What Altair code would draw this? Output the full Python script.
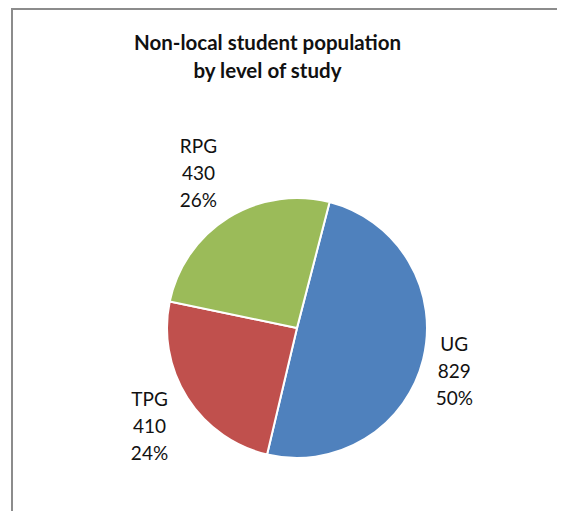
import altair as alt
import numpy as np
import pandas as pd

# ---- data ----
categories = ["UG", "TPG", "RPG"]
students = [829, 410, 430]
pct_labels = ["50%", "24%", "26%"]
colors = ["#4F81BD", "#C0504D", "#9BBB59"]

# ---- layout ----
W, H = 549, 503
CX, CY, R = 289, 320, 130
START = np.deg2rad(14.5)
FONT = "Lato"
LINE_H = 27

df = pd.DataFrame({
    "level": categories,
    "students": students,
    "pct": pct_labels,
    "order": list(range(len(categories))),
})
df["label"] = df["level"] + "\n" + df["students"].astype(str) + "\n" + df["pct"]
total = df["students"].sum()
mid = START + 2 * np.pi * (df["students"].cumsum() - df["students"] / 2) / total
# outside-end label placement: radius + gap + label box half extent along direction
df["label_r"] = R + 12 + 9 * np.abs(np.sin(mid)) + 47 * np.abs(np.cos(mid))

theta_scale = alt.Scale(range=[float(START), float(START + 2 * np.pi)])
color = alt.Color("level:N", scale=alt.Scale(domain=categories, range=colors), legend=None)

pie = alt.Chart(df).mark_arc(outerRadius=R, stroke="white", strokeWidth=2).encode(
    theta=alt.Theta("students:Q", stack=True, scale=theta_scale),
    color=color, order=alt.Order("order:Q"),
    x=alt.value(CX), y=alt.value(CY),
)

labels = alt.Chart(df).transform_window(
    cum="sum(students)", sort=[alt.SortField("order")], frame=[None, 0]
).transform_calculate(
    mid="datum.cum - datum.students / 2"
).mark_text(
    lineBreak="\n", lineHeight=LINE_H, font=FONT, fontSize=19, color="#111111",
    align="center", baseline="middle", dy=-LINE_H + 5,
).encode(
    theta=alt.Theta("mid:Q", stack=None, scale=theta_scale),
    radius=alt.Radius("label_r:Q", scale=None),
    text="label:N",
    x=alt.value(CX), y=alt.value(CY),
)

# chart-area frame: only its left and top edges fall inside the picture
frame = alt.Chart(alt.Data(values=[{"k": 1}])).mark_rect(
    fill=None, stroke="#8C8C8C", strokeWidth=2
).encode(
    x=alt.value(4), x2=alt.value(W + 40), y=alt.value(1), y2=alt.value(H + 40)
)

chart = alt.layer(frame, pie, labels).properties(
    width=W, height=H, padding=0,
    autosize=alt.AutoSizeParams(type="none"),
    title=alt.TitleParams(
        text=["Non-local student population", "by level of study"],
        font=FONT, fontSize=20.5, fontWeight="bold", color="#111111",
        anchor="middle", baseline="top", lineHeight=28, offset=-74, dx=-15,
    ),
).configure_view(stroke=None)

chart.save("out.html", embed_options={"renderer": "svg", "actions": False})
